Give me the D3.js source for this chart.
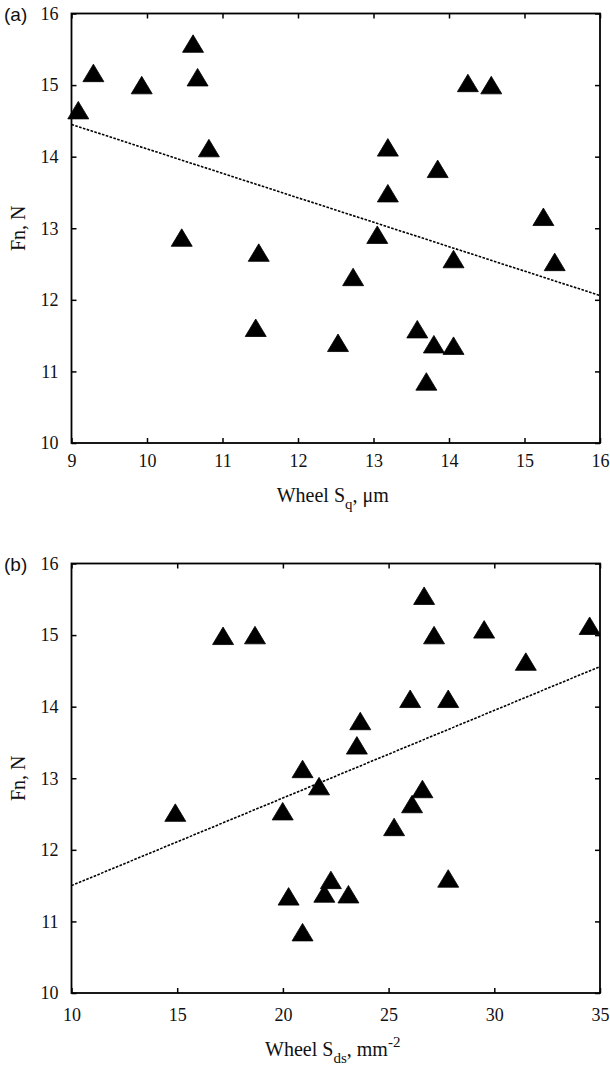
<!DOCTYPE html>
<html>
<head>
<meta charset="utf-8">
<script src="https://cdn.jsdelivr.net/npm/d3@7"></script>
<style>
  html, body { margin: 0; padding: 0; background: #fff; }
  svg { display: block; }
</style>
</head>
<body>
<script>
// ---------------- DATA ----------------
const fnA = [14.65, 15.17, 15.0, 15.58, 15.11, 14.12, 12.87, 12.66, 15.03, 15.0, 14.13, 13.83,
             13.49, 12.91, 13.16, 12.53, 12.57, 11.61, 11.40, 12.32, 11.59, 11.38, 11.36, 10.86];
const sqA = [9.09, 9.29, 9.93, 10.61, 10.67, 10.82, 10.46, 11.48, 14.25, 14.56, 13.19, 13.85,
             13.19, 13.05, 15.25, 15.40, 14.06, 11.44, 12.53, 12.73, 13.58, 13.80, 14.06, 13.70];
const fitA = [[9, 14.45], [16, 12.06]];
const xTicksA = [9, 10, 11, 12, 13, 14, 15, 16];

const fnB = [14.99, 15.0, 13.13, 15.55, 15.0, 15.08, 15.13, 14.63, 14.11, 14.11, 13.80, 13.46,
             12.89, 12.85, 12.52, 12.54, 12.32, 12.64, 11.60, 11.58, 11.39, 11.35, 11.38, 10.85];
const sdsB = [17.17, 18.68, 20.93, 26.68, 27.15, 29.52, 34.51, 31.49, 26.02, 27.82, 23.66, 23.5,
              21.71, 26.6, 14.91, 19.99, 25.26, 26.11, 27.82, 22.27, 21.96, 20.27, 23.1, 20.93];
const fitB = [[10, 11.50], [35, 14.56]];
const xTicksB = [10, 15, 20, 25, 30, 35];

const yTicks = [10, 11, 12, 13, 14, 15, 16];

// ---------------- DRAW ----------------
const W = 610, H = 1069;
const svg = d3.select("body").append("svg").attr("width", W).attr("height", H);

const serif = "Liberation Serif, Times New Roman, serif";
const sans = "Liberation Sans, Arial, sans-serif";

function panel(opts) {
  const { top, bottom, xDomain, xs, ys, fit, xTicks, tag, labelFn, xPad, labelOff } = opts;
  const left = 71.5, right = 600;
  const x = d3.scaleLinear().domain(xDomain).range([left, right]);
  const y = d3.scaleLinear().domain([10, 16]).range([bottom, top]);
  const g = svg.append("g");

  // markers
  const tw = 21, th = 17.5;
  const tri = `M0,${-th/2}L${tw/2},${th/2}L${-tw/2},${th/2}Z`;
  g.append("g").selectAll("path").data(xs.map((v, i) => [v, ys[i]])).join("path")
    .attr("d", tri)
    .attr("transform", d => `translate(${x(d[0])},${y(d[1])})`)
    .attr("fill", "#000").attr("stroke", "#000").attr("stroke-width", 0.8)
    .attr("stroke-linejoin", "round");

  // fit line
  g.append("path")
    .attr("d", d3.line().x(d => x(d[0])).y(d => y(d[1]))(fit))
    .attr("fill", "none").attr("stroke", "#000").attr("stroke-width", 1.6)
    .attr("stroke-dasharray", "2.6,1.4");

  // axes with inward ticks
  const tl = 5;
  const axB = d3.axisBottom(x).tickValues(xTicks).tickSize(-tl).tickPadding(xPad).tickFormat(d3.format("d"));
  const axT = d3.axisTop(x).tickValues(xTicks).tickSize(-tl).tickFormat("");
  const axL = d3.axisLeft(y).tickValues(yTicks).tickSize(-tl).tickPadding(13).tickFormat(d3.format("d"));
  const axR = d3.axisRight(y).tickValues(yTicks).tickSize(-tl).tickFormat("");

  const style = sel => {
    sel.attr("font-family", serif).attr("font-size", 18);
    sel.select(".domain").remove();
    sel.selectAll(".tick line").attr("stroke", "#000").attr("stroke-width", 1.5);
    sel.selectAll(".tick text").attr("fill", "#111").attr("font-family", serif).attr("font-size", 18);
  };
  g.append("g").attr("transform", `translate(0,${bottom})`).call(axB).call(style);
  g.append("g").attr("transform", `translate(0,${top})`).call(axT).call(style);
  g.append("g").attr("transform", `translate(${left},0)`).call(axL).call(style);
  g.append("g").attr("transform", `translate(${right},0)`).call(axR).call(style);

  // frame
  g.append("rect").attr("x", left).attr("y", top).attr("width", right - left).attr("height", bottom - top)
    .attr("fill", "none").attr("stroke", "#000").attr("stroke-width", 1.8);

  // panel tag
  g.append("text").attr("x", 4).attr("y", top + 7).text(tag)
    .attr("font-family", sans).attr("font-size", 19).attr("fill", "#111");

  // y label
  g.append("text")
    .attr("transform", `translate(25,${(top + bottom) / 2}) rotate(-90)`)
    .attr("text-anchor", "middle")
    .attr("font-family", serif).attr("font-size", 20).attr("fill", "#111")
    .text("Fn, N");

  // x label
  const t = g.append("text")
    .attr("x", (left + right) / 2 - 3).attr("y", bottom + labelOff)
    .attr("text-anchor", "middle")
    .attr("font-family", serif).attr("font-size", 20).attr("fill", "#111");
  labelFn(t);
}

panel({
  top: 13.5, bottom: 443, xDomain: [9, 16], xs: sqA, ys: fnA, fit: fitA, xTicks: xTicksA, tag: "(a)",
  xPad: 11, labelOff: 59,
  labelFn: t => {
    t.append("tspan").text("Wheel S");
    t.append("tspan").attr("dy", 7).attr("font-size", 15).text("q");
    t.append("tspan").attr("dy", -7).text(", \u03BCm");
  }
});

panel({
  top: 563.5, bottom: 993, xDomain: [10, 35], xs: sdsB, ys: fnB, fit: fitB, xTicks: xTicksB, tag: "(b)",
  xPad: 15, labelOff: 63,
  labelFn: t => {
    t.append("tspan").text("Wheel S");
    t.append("tspan").attr("dy", 7).attr("font-size", 15).text("ds");
    t.append("tspan").attr("dy", -7).text(", mm");
    t.append("tspan").attr("dy", -9).attr("font-size", 15).text("-2");
  }
});
</script>
</body>
</html>
